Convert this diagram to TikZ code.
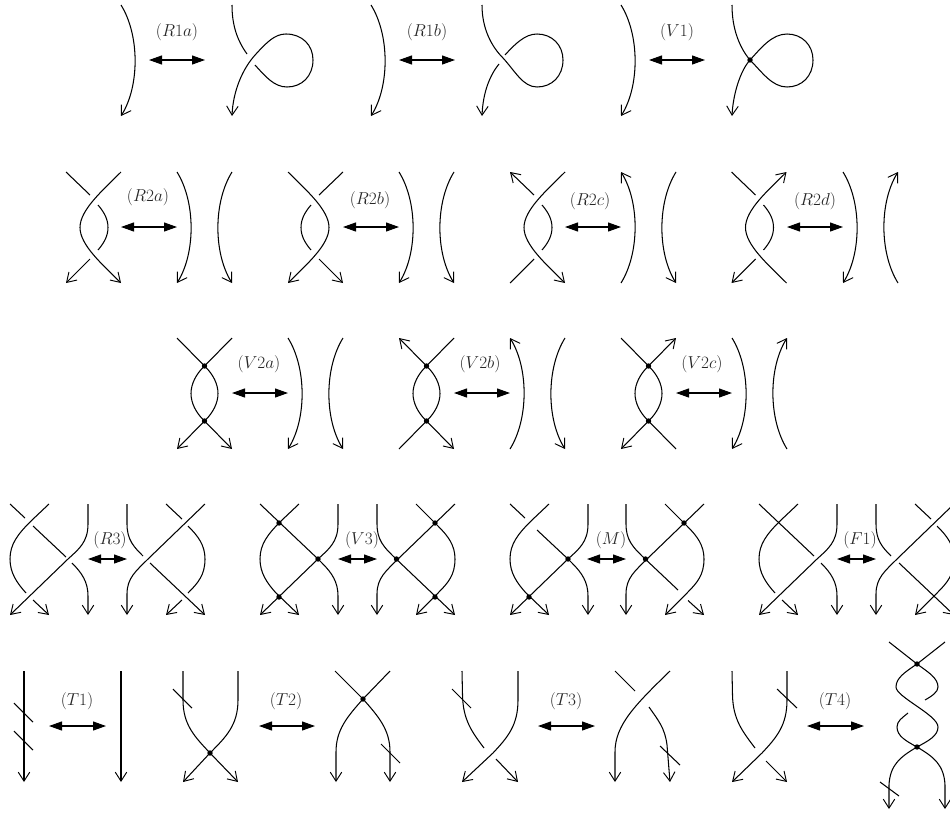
\documentclass[tikz,border=0pt]{standalone}
\usetikzlibrary{arrows.meta}
\tikzset{
  st/.style={line width=1.05pt,line cap=butt},
  opentip/.tip={Straight Barb[length=9pt,width=11.5pt,line width=0.95pt]},
  >={opentip},
  relarrow/.style={line width=1.05pt,{Triangle[length=13pt,width=9pt]}-{Triangle[length=13pt,width=9pt]}},
  lab/.style={inner sep=0pt,font=\LARGE,text=black!85}
}
% relation arrow with its label: name, x1, x2, y, label x, label y, text
\newcommand\relmove[7]{%
  \coordinate (#1a) at (#2,#4);
  \coordinate (#1b) at (#3,#4);
  \draw[relarrow] (#1a) -- (#1b);
  \node[lab] (#1l) at (#5,#6) {$#7$};}
\newcommand\vd[1]{\fill (#1) circle (2.7);}
% gentle arc from (0,0) to (0,111), bulging by 14 to side #2
\newcommand\bulg[2]{\draw[st,#1] (0,0) .. controls (#2*18.7,30) and (#2*18.7,81) .. (0,111);}
% classical twist, origin top-left, 55 x 111
\newcommand\twist[3]{%
  \draw[st,#1] (55,0) .. controls (36,19) and (14,38) .. (14,55.5) .. controls (14,73) and (36,92) .. (55,111);
  \draw[st,#2] (0,0) -- (24,23);
  \draw[st] (32,33) .. controls (38,40) and (42,47) .. (42,55.5) .. controls (42,64) and (38,71) .. (32,78);
  \draw[st,#3] (24,87) -- (0,111);}
% virtual twist: top-left, top-right, bottom-left, bottom-right options
\newcommand\vtwist[4]{%
  \draw[st,#1] (0,0) -- (27.5,28);
  \draw[st,#2] (55,0) -- (27.5,28);
  \draw[st,#3] (27.5,83) -- (0,111);
  \draw[st,#4] (27.5,83) -- (55,111);
  \draw[st] (27.5,28) .. controls (19,36) and (14,46) .. (14,55.5) .. controls (14,65) and (19,75) .. (27.5,83);
  \draw[st] (27.5,28) .. controls (36,36) and (41,46) .. (41,55.5) .. controls (41,65) and (36,75) .. (27.5,83);
  \vd{27.5,28}\vd{27.5,83}}
% three-strand pieces
\def\pA{(39,0) -- (21,17) .. controls (8,30) and (0,40) .. (0,55) .. controls (0,69) and (7,79) .. (16,89)}
\def\pBend{(62,59) .. controls (72,69) and (78,78) .. (78,92) -- (78,111)}
\def\pC{(78,0) -- (78,20) .. controls (78,38) and (69,45) .. (58,55) -- (0,111)}
\def\pDup{(0,0) -- (0,20) .. controls (0,36) and (7,43) .. (16,52)}
\def\pE{(78,0) -- (21,55) .. controls (9,67) and (0,74) .. (0,90) -- (0,111)}
\def\pFmid{(61,22) .. controls (71,32) and (78,41) .. (78,55) .. controls (78,71) and (71,79) .. (61,89)}
\begin{document}
\begin{tikzpicture}[x=1pt,y=-1pt]
\useasboundingbox (0,0) rectangle (950,814);
\clip (0,0) rectangle (950,814);

% ---- row 1
\foreach \sx in {121,371,621}{\begin{scope}[shift={(\sx,5)}]\bulg{->}{1}\end{scope}}
\relmove{ra}{149}{205}{60}{177}{32.5}{(R1a)}
\relmove{rb}{399}{455}{60}{427}{32.5}{(R1b)}
\relmove{rc}{649}{705}{60}{677}{32.5}{(V1)}
\draw[st] (232,5) .. controls (232,25) and (237,40) .. (247,54);
\draw[st,<-] (232,116) .. controls (233,92) and (242,69) .. (256,54) .. controls (267,42) and (275,34) .. (286,34) .. controls (302,34) and (313,45) .. (313,60) .. controls (313,76) and (302,87) .. (287,87) .. controls (274,87) and (265,76) .. (255,65);
\draw[st] (482,5) .. controls (482,28) and (491,46) .. (503,58) .. controls (515,71) and (523,87) .. (537,87) .. controls (552,87) and (563,76) .. (563,60) .. controls (563,45) and (552,34) .. (537,34) .. controls (525,34) and (515,44) .. (505,55);
\draw[st,<-] (482,116) .. controls (483,92) and (490,75) .. (499,64);
\draw[st] (732,5) .. controls (732,28) and (739,47) .. (750,60) .. controls (762,72) and (772,87) .. (787,87) .. controls (802,87) and (813,76) .. (813,60) .. controls (813,45) and (802,34) .. (787,34) .. controls (772,34) and (761,48) .. (750,60);
\draw[st,<-] (732,116) .. controls (733,95) and (740,71) .. (750,60);
\vd{750,60}

% ---- row 2
\begin{scope}[shift={(66,172)}]\twist{->}{}{->}\end{scope}
\begin{scope}[shift={(343,172)},xscale=-1]\twist{->}{}{->}\end{scope}
\begin{scope}[shift={(510,172)}]\twist{->}{<-}{}\end{scope}
\begin{scope}[shift={(731.5,172)}]\twist{<-}{}{->}\end{scope}
\relmove{rd}{121}{177}{227}{148}{197}{(R2a)}
\relmove{re}{343}{399}{227}{370}{200}{(R2b)}
\relmove{rf}{565}{621}{227}{590}{201}{(R2c)}
\relmove{rg}{787}{843}{227}{815}{201}{(R2d)}
\begin{scope}[shift={(177,172)}]\bulg{->}{1}\end{scope}
\begin{scope}[shift={(232,172)}]\bulg{->}{-1}\end{scope}
\begin{scope}[shift={(399,172)}]\bulg{->}{1}\end{scope}
\begin{scope}[shift={(454,172)}]\bulg{->}{-1}\end{scope}
\begin{scope}[shift={(621,172)}]\bulg{<-}{1}\end{scope}
\begin{scope}[shift={(676,172)}]\bulg{->}{-1}\end{scope}
\begin{scope}[shift={(843,172)}]\bulg{->}{1}\end{scope}
\begin{scope}[shift={(898,172)}]\bulg{<-}{-1}\end{scope}

% ---- row 3
\begin{scope}[shift={(177,338)}]\vtwist{}{}{->}{->}\end{scope}
\begin{scope}[shift={(399,338)}]\vtwist{<-}{}{}{->}\end{scope}
\begin{scope}[shift={(621,338)}]\vtwist{}{<-}{->}{}\end{scope}
\relmove{rh}{232}{288}{393}{259}{364}{(V2a)}
\relmove{ri}{454}{510}{393}{480}{364}{(V2b)}
\relmove{rj}{676}{732}{393}{702}{364}{(V2c)}
\begin{scope}[shift={(288,338)}]\bulg{->}{1}\end{scope}
\begin{scope}[shift={(343,338)}]\bulg{->}{-1}\end{scope}
\begin{scope}[shift={(510,338)}]\bulg{<-}{1}\end{scope}
\begin{scope}[shift={(565,338)}]\bulg{->}{-1}\end{scope}
\begin{scope}[shift={(732,338)}]\bulg{->}{1}\end{scope}
\begin{scope}[shift={(787,338)}]\bulg{<-}{-1}\end{scope}

% ---- row 4
\relmove{rk}{88}{127}{559}{110}{540}{(R3)}
\relmove{rl}{338}{377}{559}{362}{540}{(V3)}
\relmove{rm}{587}{626}{559}{611}{540}{(M)}
\relmove{rn}{837}{876}{559}{860}{540}{(F1)}
% R3
\begin{scope}[shift={(10,504)}]
  \draw[st] \pA;
  \draw[st,->] (23,96) -- (39,111);
  \draw[st] (0,0) -- (15,14);
  \draw[st] (23,22) -- (56,53);
  \draw[st,->] \pBend;
  \draw[st,->] \pC;
\end{scope}
\begin{scope}[shift={(127,504)}]
  \draw[st] \pDup;
  \draw[st,->] \pE;
  \draw[st] (39,0) -- (55,15);
  \draw[st] \pFmid;
  \draw[st,->] (55,96) -- (39,111);
  \draw[st,->] (23,59) -- (78,111);
\end{scope}
% V3
\begin{scope}[shift={(260,504)}]
  \draw[st,->] \pA -- (39,111);
  \draw[st,->] (0,0) -- (58,55) -- \pBend;
  \draw[st,->] \pC;
  \vd{19,19}\vd{58,55}\vd{19,93}
\end{scope}
\begin{scope}[shift={(377,504)}]
  \draw[st,->] \pDup -- (78,111);
  \draw[st,->] \pE;
  \draw[st,->] (39,0) -- \pFmid -- (39,111);
  \vd{19.5,55}\vd{58,19}\vd{58,93}
\end{scope}
% M
\begin{scope}[shift={(510,504)}]
  \draw[st,->] \pA -- (39,111);
  \draw[st] (0,0) -- (15,14);
  \draw[st,->] (27,26) -- (58,55) -- \pBend;
  \draw[st,->] \pC;
  \vd{58,55}\vd{19,93}
\end{scope}
\begin{scope}[shift={(626,504)}]
  \draw[st] \pDup -- (52,86);
  \draw[st,->] \pE;
  \draw[st,->] (39,0) -- \pFmid -- (39,111);
  \draw[st,->] (62,96.5) -- (78,111);
  \vd{19.5,55}\vd{58,19}
\end{scope}
% F1
\begin{scope}[shift={(759,504)}]
  \draw[st] \pA;
  \draw[st,->] (23,96) -- (39,111);
  \draw[st] (0,0) -- (55,52);
  \draw[st,->] \pBend;
  \draw[st,->] \pC;
\end{scope}
\begin{scope}[shift={(876,504)}]
  \draw[st] (0,0) -- (0,20) .. controls (0,36) and (6,43) .. (15,52);
  \draw[st,->] \pE;
  \draw[st] (39,0) -- (55,15);
  \draw[st,->] \pFmid -- (39,111);
  \draw[st,->] (23,59) -- (78,111);
\end{scope}

% ---- row 5
\relmove{ro}{49}{106}{726}{77}{701}{(T1)}
\relmove{rp}{259}{315}{726}{286}{701}{(T2)}
\relmove{rq}{538}{595}{726}{566}{701}{(T3)}
\relmove{rr}{807}{864}{726}{835}{701}{(T4)}
% T1
\draw[st,->] (24,671) -- (24,782);
\draw[st] (14,703) -- (33,722);
\draw[st] (14,731) -- (33,750);
\draw[st,->] (121,671) -- (121,782);
% T2
\draw[st,->] (183,671) -- (183,700) .. controls (183,725) and (195,737) .. (210,753) -- (238,782);
\draw[st,->] (238,671) -- (238,700) .. controls (238,725) and (226,737) .. (210,753) -- (183,782);
\draw[st] (173,689) -- (192,708);
\vd{210,753}
\draw[st] (335,671) -- (363,699);
\draw[st] (390,671) -- (363,699);
\draw[st,->] (363,699) .. controls (347,717) and (336,730) .. (336,752) -- (336,782);
\draw[st,->] (363,699) .. controls (379,717) and (390,730) .. (390,752) -- (390,782);
\draw[st] (381,744) -- (400,763);
\vd{363,699}
% T3
\draw[st] (462,671) -- (462.5,695) .. controls (463,720) and (472,732) .. (484,748);
\draw[st,->] (518,671) -- (518,700) .. controls (518,725) and (508,737) .. (493,753) -- (462,782);
\draw[st,->] (496,759) -- (518,782);
\draw[st] (452,689) -- (471,708);
\draw[st] (615,671) -- (635,691);
\draw[st,->] (670,671) .. controls (635,705) and (615,725) .. (615,752) -- (615,782);
\draw[st,->] (649,707) .. controls (658,720) and (665,728) .. (667,745) -- (670,782);
\draw[st] (660,746) -- (680,765);
% T4
\draw[st] (732,671) -- (732.5,695) .. controls (733,720) and (743,732) .. (755,748);
\draw[st,->] (787,671) -- (787,700) .. controls (787,725) and (777,737) .. (762,753) -- (732,782);
\draw[st,->] (766,761) -- (787,782);
\draw[st] (777,689) -- (797,708);
\draw[st] (889,642) -- (917,664);
\draw[st] (945,642) -- (917,664);
\draw[st] (917,664) .. controls (905,672) and (896,678) .. (896,687) .. controls (896,697) and (938,715) .. (938,727) .. controls (938,736) and (928,741) .. (917,747);
\draw[st] (917,664) .. controls (928,672) and (938,678) .. (938,687) .. controls (938,692) and (932,696) .. (925,700);
\draw[st] (908,713) .. controls (902,718) and (897,721) .. (897,727) .. controls (897,736) and (906,741) .. (917,747);
\draw[st,->] (917,747) .. controls (900,757) and (890,765) .. (889,785) -- (889,809);
\draw[st,->] (917,747) .. controls (934,757) and (944,765) .. (945,785) -- (945,809);
\draw[st] (880,782) -- (899,796);
\vd{917,664}\vd{917,747}
\end{tikzpicture}
\end{document}
